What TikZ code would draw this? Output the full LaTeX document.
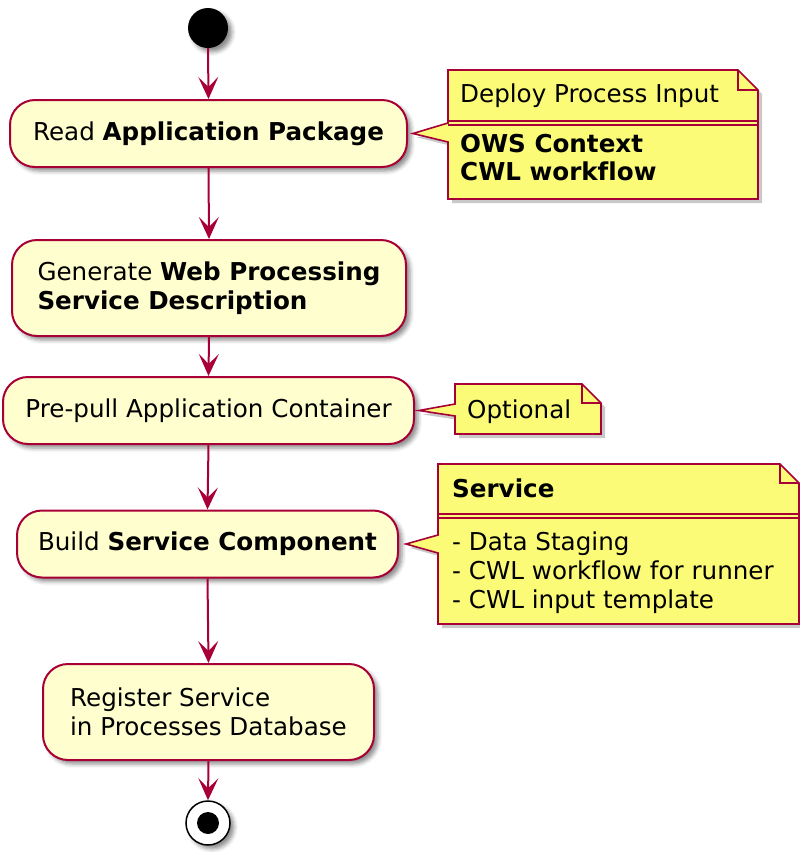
\documentclass[tikz,border=0pt]{standalone}
\usepackage{fontspec}
\setmainfont{DejaVu Sans}[Ligatures=NoCommon]
\usetikzlibrary{arrows.meta,shadows,shadows.blur,calc}
\definecolor{pumlred}{HTML}{A80036}
\definecolor{actfill}{HTML}{FEFECE}
\definecolor{notefill}{HTML}{FBFB77}
\tikzset{
  txt/.style={font=\fontsize{24.6}{28.5}\selectfont},
  shad/.style={blur shadow={shadow xshift=4pt, shadow yshift=-4pt, shadow blur radius=4pt, shadow opacity=45}},
  nshad/.style={drop shadow={shadow xshift=4pt, shadow yshift=-4pt, opacity=0.3, fill=black!70}},
  act/.style={txt, draw=pumlred, fill=actfill, line width=2pt, rounded corners=25pt, align=left, inner sep=0pt, shad},
  flow/.style={draw=pumlred, line width=2pt, -{Stealth[length=22pt,width=20pt,inset=10pt]}},
  notebg/.style={draw=pumlred, fill=notefill, line width=1.6pt, line join=miter, nshad},
  noteline/.style={draw=pumlred, line width=1.6pt},
  notetxt/.style={txt, anchor=base west, inner sep=0pt},
}
\begin{document}
\begin{tikzpicture}[x=1pt,y=-1pt]
\useasboundingbox (0,0) rectangle (800,852);

% start / end
\node[circle, fill=black, minimum size=40pt, inner sep=0pt, shad] (start) at (208,28) {};
\node[circle, draw=black, fill=white, line width=1.5pt, minimum size=44pt, inner sep=0pt, shad] (stop) at (208,823) {};
\node[circle, fill=black, minimum size=22pt, inner sep=0pt] (stopdot) at (stop.center) {};

% activities
\node[act, minimum width=397pt, minimum height=67pt] (b1) at (208.5,133.5) {Read \textbf{Application Package}};
\node[act, minimum width=394pt, minimum height=96pt] (b2) at (209,288) {Generate \textbf{Web Processing}\\\textbf{Service Description}};
\node[act, minimum width=411pt, minimum height=67pt] (b3) at (208.5,410.5) {Pre-pull Application Container};
\node[act, minimum width=381pt, minimum height=67pt] (b4) at (207.5,544) {Build \textbf{Service Component}};
\node[act, minimum width=331pt, minimum height=96pt] (b5) at (208.5,712) {Register Service\\in Processes Database};

% flows
\draw[flow] (start.south) -- (b1.north);
\draw[flow] (b1.south) -- (b2.north);
\draw[flow] (b2.south) -- (b3.north);
\draw[flow] (b3.south) -- (b4.north);
\draw[flow] (b4.south) -- (b5.north);
\draw[flow] (b5.south) -- (stop.north);

% note 1
\path[notebg] (448,70) -- (738,70) -- (758,90) -- (758,199) -- (448,199) -- (448,142)
  -- ($(b1.east)+(5,0)$) -- (448,123) -- cycle;
\draw[noteline] (738,70) -- (738,90) -- (758,90);
\draw[noteline] (448,121) -- (758,121);
\draw[noteline] (448,125) -- (758,125);
\node[notetxt] (n1a) at (460,102) {Deploy Process Input};
\node[notetxt] (n1b) at (460,152) {\textbf{OWS Context}};
\node[notetxt] (n1c) at (460,180) {\textbf{CWL workflow}};

% note 2
\path[notebg] (455,384) -- (582,384) -- (601,403) -- (601,434) -- (455,434) -- (455,416)
  -- ($(b3.east)+(4,0)$) -- (455,404) -- cycle;
\draw[noteline] (582,384) -- (582,403) -- (601,403);
\node[notetxt] (n2a) at (467,418) {Optional};

% note 3
\path[notebg] (438,464) -- (780,464) -- (799,483) -- (799,624) -- (438,624) -- (438,553)
  -- ($(b4.east)+(7,0)$) -- (438,535) -- cycle;
\draw[noteline] (780,464) -- (780,483) -- (799,483);
\draw[noteline] (438,514) -- (799,514);
\draw[noteline] (438,518) -- (799,518);
\node[notetxt] (n3a) at (452,497) {\textbf{Service}};
\node[notetxt] (n3b) at (452,550) {- Data Staging};
\node[notetxt] (n3c) at (452,579) {- CWL workflow for runner};
\node[notetxt] (n3d) at (452,608) {- CWL input template};
\end{tikzpicture}
\end{document}
